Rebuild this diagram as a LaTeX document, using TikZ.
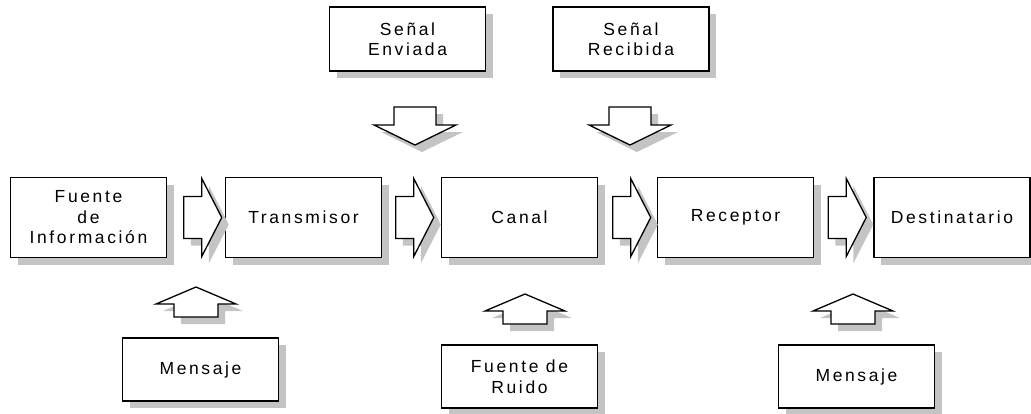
\documentclass[tikz,border=0pt]{standalone}
\usepackage{fontspec}
\setmainfont{Liberation Sans}[LetterSpace=15]
\usetikzlibrary{shadows}
\definecolor{shadowgray}{HTML}{C4C4C4}
\tikzset{
  shad/.style={drop shadow={shadow xshift=7pt, shadow yshift=-7pt, fill=shadowgray, opacity=1}},
  box/.style={shad, draw=black, line width=1.5pt, fill=white, inner sep=0pt, align=center,
    font=\fontsize{17.5}{20.5}\selectfont, minimum width=156pt},
  mainbox/.style={box, minimum height=80pt},
  smallbox/.style={box, minimum height=64pt},
  arr/.style={shad, draw=black, line width=1.3pt, fill=white, line join=miter},
  rarr/.pic={\path[arr] (0,0) -- (-20,-39) -- (-20,-21) -- (-38,-21) -- (-38,21) -- (-20,21) -- (-20,39) -- cycle;},
  darr/.pic={\path[arr] (0,0) -- (-41,-20) -- (-21,-20) -- (-21,-38) -- (21,-38) -- (21,-20) -- (41,-20) -- cycle;},
  uarr/.pic={\path[arr] (0,0) -- (-40,17) -- (-22,17) -- (-22,30) -- (22,30) -- (22,17) -- (40,17) -- cycle;}
}
\begin{document}
\begin{tikzpicture}[x=1pt, y=-1pt]
\useasboundingbox (0,0) rectangle (1031,413);
% main row
\node[mainbox] (fuente) at (88.5,217.5) {Fuente\\de\\Información};
\node[mainbox] (trans) at (303.5,217.5) {Transmisor};
\node[mainbox] (canal) at (519.5,217.5) {Canal};
\node[mainbox] (recep) at (735.5,217.5) {Receptor};
\node[mainbox] (dest) at (952,217.5) {Destinatario};
% top boxes
\node[smallbox] (enviada) at (407.5,39) {Señal\\Enviada};
\node[smallbox] (recibida) at (631,39) {Señal\\Recibida};
% bottom boxes
\node[smallbox, minimum height=63pt] (mensaje1) at (200.5,369.5) {Mensaje};
\node[smallbox, minimum height=63pt] (ruido) at (519.5,376.5) {Fuente de\\Ruido};
\node[smallbox, minimum height=63pt] (mensaje2) at (856.5,376.5) {Mensaje};
% horizontal block arrows
\coordinate (t1) at ([xshift=-3pt]trans.west);
\coordinate (t2) at ([xshift=-7pt]canal.west);
\coordinate (t3) at ([xshift=-6pt]recep.west);
\coordinate (t4) at ([xshift=-7pt]dest.west);
\pic at (t1) {rarr};
\pic at (t2) {rarr};
\pic at (t3) {rarr};
\pic at (t4) {rarr};
% down arrows
\coordinate (d1) at (415,145);
\coordinate (d2) at (630,145);
\pic at (d1) {darr};
\pic at (d2) {darr};
% up arrows
\coordinate (u1) at (196,287);
\coordinate (u2) at (525,294);
\coordinate (u3) at (853,294);
\pic at (u1) {uarr};
\pic at (u2) {uarr};
\pic at (u3) {uarr};
\end{tikzpicture}
\end{document}
